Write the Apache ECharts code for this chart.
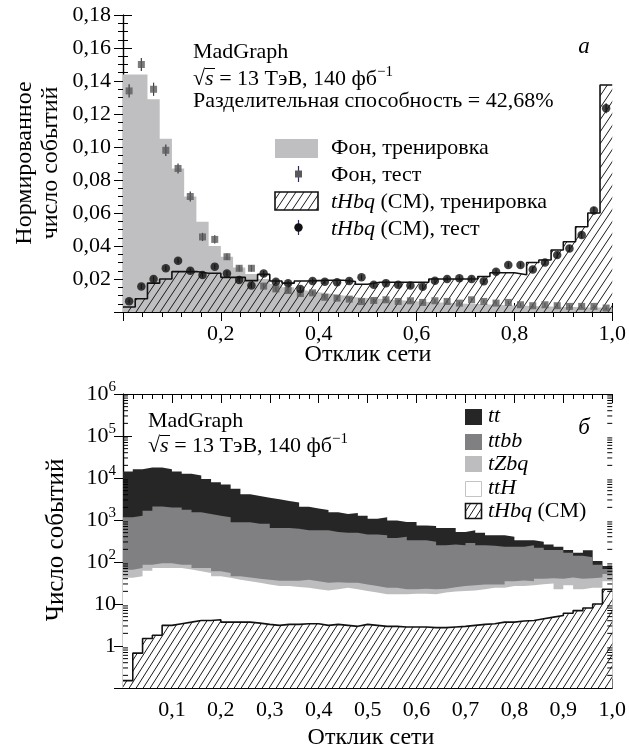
<!DOCTYPE html>
<html>
<head>
<meta charset="utf-8">
<script src="https://cdn.jsdelivr.net/npm/echarts@6/dist/echarts.min.js"></script>
<style>
  html, body { margin: 0; padding: 0; background: #fff; }
  #chart { width: 629px; height: 752px; }
</style>
</head>
<body>
<div id="chart"></div>
<script>
// верхняя панель (а): 40 бинов по 0,025
const topBinWidth = 0.025
const bkgTrain = [0.144, 0.144, 0.129, 0.105, 0.087, 0.070, 0.0547, 0.040, 0.0335, 0.027,
  0.023, 0.020, 0.017, 0.015, 0.013, 0.012, 0.011, 0.010, 0.009, 0.0085,
  0.008, 0.0075, 0.007, 0.0065, 0.006, 0.0058, 0.0055, 0.005, 0.0048, 0.0045,
  0.0043, 0.004, 0.0038, 0.0035, 0.0033, 0.003, 0.003, 0.0028, 0.0027, 0.0025]
const bkgTest = [0.134, 0.150, 0.135, 0.098, 0.087, 0.070, 0.0455, 0.044, 0.0335, 0.0265,
  0.0265, 0.0157, 0.014, 0.013, 0.0112, 0.0116, 0.0089, 0.0084, 0.0078, 0.0063,
  0.0070, 0.0074, 0.0064, 0.0068, 0.0058, 0.0068, 0.0064, 0.0054, 0.0074, 0.0064,
  0.0054, 0.0058, 0.0044, 0.0038, 0.0044, 0.0038, 0.0034, 0.0034, 0.0034, 0.0024]
const bkgTestErr = [0.004, 0.004, 0.004, 0.0035, 0.003, 0.003, 0.0025, 0.0025, 0.002, 0.002,
  0.002, 0.0015, 0.0015, 0.0015, 0.0012, 0.0012, 0.0012, 0.0012, 0.0012, 0.001,
  0.001, 0.001, 0.001, 0.001, 0.001, 0.001, 0.001, 0.001, 0.001, 0.001,
  0.001, 0.001, 0.001, 0.001, 0.001, 0.001, 0.001, 0.001, 0.001, 0.001]
const sigTrain = [0.003, 0.008, 0.0175, 0.020, 0.0245, 0.0245, 0.0235, 0.0235, 0.021, 0.021,
  0.019, 0.0228, 0.0188, 0.0175, 0.0188, 0.019, 0.0192, 0.0192, 0.0185, 0.0168,
  0.018, 0.018, 0.018, 0.018, 0.018, 0.020, 0.020, 0.020, 0.020, 0.0215,
  0.0238, 0.0238, 0.0226, 0.030, 0.0315, 0.0376, 0.0426, 0.0517, 0.060, 0.1376]
const sigTest = [0.0065, 0.0154, 0.020, 0.0265, 0.031, 0.025, 0.0224, 0.0275, 0.0234, 0.0194,
  0.016, 0.0234, 0.0184, 0.0174, 0.0139, 0.0188, 0.0184, 0.018, 0.0188, 0.021,
  0.0165, 0.0175, 0.0165, 0.016, 0.0153, 0.019, 0.020, 0.0205, 0.020, 0.0186,
  0.0244, 0.0285, 0.0285, 0.0258, 0.030, 0.0345, 0.0385, 0.0467, 0.0615, 0.1235]
const sigTestErr = [0.0012, 0.0015, 0.0015, 0.0015, 0.0015, 0.0015, 0.0015, 0.0015, 0.0015, 0.0015,
  0.0015, 0.0015, 0.0015, 0.0015, 0.0015, 0.0015, 0.0015, 0.0015, 0.0015, 0.0015,
  0.0015, 0.0015, 0.0015, 0.0015, 0.0015, 0.0015, 0.0015, 0.0015, 0.0015, 0.0015,
  0.0015, 0.0015, 0.0015, 0.0015, 0.0015, 0.0018, 0.002, 0.002, 0.0022, 0.003]

// нижняя панель (б): 50 бинов по 0,02, число событий по процессам
const botBinWidth = 0.02
const tt = [13190, 14930, 16140, 15700, 14210, 12360, 10940, 9880, 8110, 6630,
  5840, 4660, 3210, 2920, 2590, 2485, 2205, 1980, 1500, 1310,
  1160, 1005, 890, 970, 820, 615, 727, 596, 493, 560,
  410, 418, 393, 383, 263, 285, 248, 188, 201, 165,
  98, 78, 84, 69, 39, 28, 25, 60, 20, 12]
const ttbb = [1094, 1198, 1574, 2006, 1896, 1904, 1674, 1448, 1318, 1210,
  1105, 844, 847, 770, 772, 609, 609, 584, 532, 535,
  538, 482, 468, 468, 421, 423, 408, 350, 375, 308,
  307, 280, 229, 237, 225, 257, 223, 216, 203, 197,
  196, 217, 178, 152, 153, 122, 100, 89, 43, 16]
const tZbq = [23.6, 26, 24, 22, 22, 14, 20, 12, 17, 14,
  13, 8, 8, 8, 9, 9.3, 9.3, 10.7, 13.5, 12.6,
  11, 10.6, 7.5, 9.6, 8.6, 8, 7.5, 7.5, 5.4, 4.9,
  5.5, 5.4, 4.3, 5.2, 6.3, 7, 6.6, 4.5, 4.5, 8.3,
  9.3, 7, 10.5, 10, 17.6, 15, 17.6, 16.5, 18.5, 17]
const ttH = [41.8, 45.3, 60.5, 70.2, 68.9, 68.6, 62.3, 55.9, 50.9, 41.8,
  38.3, 34.3, 31.3, 28.5, 25.7, 23.6, 23.4, 22.0, 21.1, 19.0,
  17.9, 19.1, 21.4, 19.5, 17.1, 15.6, 14.1, 14.1, 14.2, 14.7,
  14.7, 14.3, 16.0, 17.0, 17.5, 17.9, 19.1, 21.1, 20.8, 23.0,
  22.8, 23.9, 25.1, 26.1, 17.1, 22.0, 15.4, 16.5, 14.5, 12.6]
const tHbq = [0.15, 0.675, 1.51, 1.81, 3.1, 3.4, 3.7, 4.06, 4.06, 4.2,
  3.7, 3.7, 3.7, 3.5, 3.27, 3.1, 3.27, 3.27, 3.4, 3.4,
  3.1, 3.27, 3.1, 2.94, 3.27, 3.1, 2.94, 2.94, 2.84, 2.84,
  2.84, 2.74, 2.74, 2.84, 2.94, 3.1, 3.27, 3.4, 3.7, 3.7,
  3.93, 4.06, 4.45, 4.87, 5.33, 6.04, 6.96, 8.0, 10, 22.4]

// подписи делений
const topXLabels = ['', '0,2', '0,4', '0,6', '0,8', '1,0']
const topYLabels = ['', '0,02', '0,04', '0,06', '0,08', '0,10', '0,12', '0,14', '0,16', '0,18']
const botXLabels = ['', '0,1', '0,2', '0,3', '0,4', '0,5', '0,6', '0,7', '0,8', '0,9', '1,0']
const botYLabels = { '-1': '', 0: '1', 1: '10', 2: '10{sup|2}', 3: '10{sup|3}', 4: '10{sup|4}', 5: '10{sup|5}', 6: '10{sup|6}' }

const FONT = '"Liberation Serif", "DejaVu Serif", serif'
const FS = 22

function stepData (vals, w) {
  const d = vals.map((v, i) => [+(i * w).toFixed(4), v])
  d.push([1, vals[vals.length - 1]])
  return d
}

function hatch (w, h) {
  const c = document.createElement('canvas')
  c.width = w
  c.height = h
  const g = c.getContext('2d')
  g.strokeStyle = '#1a1a1a'
  g.lineWidth = 1
  for (const off of [-w, 0, w]) {
    g.beginPath()
    g.moveTo(off, h)
    g.lineTo(off + w, 0)
    g.stroke()
  }
  return c
}
const hatchTop = { image: hatch(8, 12), repeat: 'repeat' }
const hatchBot = { image: hatch(7, 11), repeat: 'repeat' }

// накопленные слои нижней панели
const cum = []
let acc = tHbq.slice()
cum.push(acc.slice())
for (const arr of [ttH, tZbq, ttbb, tt]) {
  acc = acc.map((v, i) => v + arr[i])
  cum.push(acc.slice())
}

// малые деления логарифмической оси
const logMinor = []
for (let e = -1; e < 6; e++) {
  for (let m = 2; m <= 9; m++) logMinor.push([0, m * Math.pow(10, e)])
}

const tickStyle = { lineStyle: { color: '#000', width: 1 } }

function xAxis (grid, interval, labels, top) {
  return {
    type: 'value',
    gridIndex: grid,
    position: top ? 'top' : 'bottom',
    min: 0,
    max: 1,
    interval: interval,
    axisLine: { lineStyle: { color: '#000', width: 1.2 } },
    axisTick: { inside: true, length: 9, ...tickStyle },
    minorTick: { show: true, splitNumber: 5, length: 5, ...tickStyle },
    splitLine: { show: false },
    axisLabel: top
      ? { show: false }
      : {
          margin: 11,
          color: '#000',
          fontFamily: FONT,
          fontSize: FS,
          formatter: v => labels[Math.round(v / interval)] || ''
        }
  }
}

function errorBars (data, errs, w, color) {
  return {
    type: 'custom',
    xAxisIndex: 0,
    yAxisIndex: 0,
    z: 4,
    data: data.map((v, i) => [(i + 0.5) * w, v, errs[i]]),
    encode: { x: 0, y: 1 },
    renderItem: (params, api) => {
      const x = api.value(0)
      const y = api.value(1)
      const e = api.value(2)
      const p1 = api.coord([x, y - e])
      const p2 = api.coord([x, y + e])
      return {
        type: 'line',
        shape: { x1: p1[0], y1: p1[1], x2: p2[0], y2: p2[1] },
        style: { stroke: color, lineWidth: 1.2 }
      }
    }
  }
}

const myChart = echarts.init(document.getElementById('chart'), null, { renderer: 'canvas' })

const txt = (x, y, text, extra) => ({
  type: 'text',
  z: 10,
  x: x,
  y: y,
  style: {
    text: text,
    font: FS + 'px ' + FONT,
    fill: '#000',
    textVerticalAlign: 'middle',
    rich: {
      i: { fontFamily: FONT, fontSize: FS, fontStyle: 'italic' },
      n: { fontFamily: FONT, fontSize: FS },
      sup: { fontFamily: FONT, fontSize: 15, padding: [0, 0, 13, 0] }
    },
    ...extra
  }
})

const line = (x1, y1, x2, y2, stroke, w) => ({
  type: 'line', z: 10, shape: { x1, y1, x2, y2 }, style: { stroke: stroke, lineWidth: w }
})

const option = {
  animation: false,
  grid: [
    { left: 123, top: 15, width: 491, height: 297 },
    { left: 123, top: 394, width: 491, height: 294 }
  ],
  xAxis: [
    xAxis(0, 0.2, topXLabels, false),
    xAxis(0, 0.2, topXLabels, true),
    xAxis(1, 0.1, botXLabels, false),
    xAxis(1, 0.1, botXLabels, true)
  ],
  yAxis: [
    {
      type: 'value',
      gridIndex: 0,
      min: 0,
      max: 0.18,
      interval: 0.02,
      axisLine: { show: true, lineStyle: { color: '#000', width: 1.2 } },
      axisTick: { show: true, inside: true, length: 9, ...tickStyle },
      minorTick: { show: true, splitNumber: 4, length: 5, ...tickStyle },
      splitLine: { show: false },
      axisLabel: {
        margin: 12,
        color: '#000',
        fontFamily: FONT,
        fontSize: FS,
        formatter: v => topYLabels[Math.round(v / 0.02)] || ''
      }
    },
    {
      type: 'value',
      gridIndex: 0,
      position: 'right',
      min: 0,
      max: 0.18,
      interval: 0.02,
      axisLine: { show: true, lineStyle: { color: '#000', width: 1.2 } },
      axisTick: { show: true, inside: true, length: 9, ...tickStyle },
      minorTick: { show: true, splitNumber: 4, length: 5, ...tickStyle },
      splitLine: { show: false },
      axisLabel: { show: false }
    },
    {
      type: 'log',
      logBase: 10,
      gridIndex: 1,
      min: 0.1,
      max: 1e6,
      splitNumber: 8,
      axisLine: { show: true, lineStyle: { color: '#000', width: 1.2 } },
      axisTick: { show: true, inside: true, length: 9, ...tickStyle },
      splitLine: { show: false },
      axisLabel: {
        margin: 7,
        color: '#000',
        fontFamily: FONT,
        fontSize: FS,
        formatter: v => botYLabels[Math.round(Math.log10(v))] || '',
        rich: { sup: { fontFamily: FONT, fontSize: 15, padding: [0, 0, 13, 0] } }
      }
    },
    {
      type: 'log',
      logBase: 10,
      gridIndex: 1,
      position: 'right',
      min: 0.1,
      max: 1e6,
      splitNumber: 8,
      axisLine: { show: true, lineStyle: { color: '#000', width: 1.2 } },
      axisTick: { show: true, inside: true, length: 9, ...tickStyle },
      splitLine: { show: false },
      axisLabel: { show: false }
    }
  ],
  series: [
    // верхняя панель
    {
      name: 'Фон, тренировка',
      type: 'line',
      xAxisIndex: 0,
      yAxisIndex: 0,
      step: 'end',
      symbol: 'none',
      z: 1,
      data: stepData(bkgTrain, topBinWidth),
      lineStyle: { width: 0 },
      areaStyle: { color: '#bfbfc1', opacity: 1 }
    },
    {
      name: 'tHbq (СМ), тренировка',
      type: 'line',
      xAxisIndex: 0,
      yAxisIndex: 0,
      step: 'end',
      symbol: 'none',
      z: 2,
      data: stepData(sigTrain, topBinWidth),
      lineStyle: { color: '#111', width: 1.6 },
      areaStyle: { color: hatchTop, opacity: 1 }
    },
    errorBars(bkgTest, bkgTestErr, topBinWidth, '#3a3a4a'),
    {
      name: 'Фон, тест',
      type: 'scatter',
      xAxisIndex: 0,
      yAxisIndex: 0,
      z: 5,
      symbol: 'rect',
      symbolSize: 7,
      itemStyle: { color: '#5a5a5a' },
      data: bkgTest.map((v, i) => [(i + 0.5) * topBinWidth, v])
    },
    errorBars(sigTest, sigTestErr, topBinWidth, '#222'),
    {
      name: 'tHbq (СМ), тест',
      type: 'scatter',
      xAxisIndex: 0,
      yAxisIndex: 0,
      z: 6,
      symbol: 'circle',
      symbolSize: 8.5,
      itemStyle: { color: '#111' },
      data: sigTest.map((v, i) => [(i + 0.5) * topBinWidth, v])
    },
    // нижняя панель: слои от суммы вниз
    ...[
      { name: 'tt', vals: cum[4], color: '#262626' },
      { name: 'ttbb', vals: cum[3], color: '#808082' },
      { name: 'tZbq', vals: cum[2], color: '#bdbdbf' },
      { name: 'ttH', vals: cum[1], color: '#ffffff' }
    ].map((s, k) => ({
      name: s.name,
      type: 'line',
      xAxisIndex: 2,
      yAxisIndex: 2,
      step: 'end',
      symbol: 'none',
      z: 1 + k * 0.1,
      data: stepData(s.vals, botBinWidth),
      lineStyle: { width: 0 },
      areaStyle: { color: s.color, opacity: 1, origin: 'start' }
    })),
    {
      name: 'tHbq (СМ)',
      type: 'line',
      xAxisIndex: 2,
      yAxisIndex: 2,
      step: 'end',
      symbol: 'none',
      z: 2,
      data: stepData(cum[0], botBinWidth),
      lineStyle: { color: '#111', width: 1.6 },
      areaStyle: { color: hatchBot, opacity: 1, origin: 'start' }
    },
    {
      type: 'custom',
      xAxisIndex: 2,
      yAxisIndex: 2,
      z: 8,
      silent: true,
      data: logMinor,
      encode: { x: 0, y: 1 },
      renderItem: (params, api) => {
        const v = api.value(1)
        const l = api.coord([0, v])
        const r = api.coord([1, v])
        return {
          type: 'group',
          children: [
            { type: 'line', shape: { x1: l[0], y1: l[1], x2: l[0] + 5, y2: l[1] }, style: { stroke: '#000', lineWidth: 1 } },
            { type: 'line', shape: { x1: r[0] - 5, y1: r[1], x2: r[0], y2: r[1] }, style: { stroke: '#000', lineWidth: 1 } }
          ]
        }
      }
    }
  ],
  graphic: [
    // подписи осей
    txt(25, 163, 'Нормированное', { textAlign: 'center', font: '24px ' + FONT }),
    txt(51, 163, 'число событий', { textAlign: 'center', font: '24px ' + FONT }),
    txt(56, 540, 'Число событий', { textAlign: 'center', font: '25px ' + FONT }),
    txt(368, 355, 'Отклик сети', { textAlign: 'center', font: '24px ' + FONT }),
    txt(371, 738, 'Отклик сети', { textAlign: 'center', font: '24px ' + FONT }),
    // панель а
    txt(193, 52, 'MadGraph'),
    txt(193, 79, '{n|√}{i|s}{n| = 13 ТэВ, 140 фб}{sup|−1}'),
    line(205, 68.5, 215, 68.5, '#000', 1),
    txt(193, 101, 'Разделительная способность = 42,68%'),
    txt(584, 47, 'а', { textAlign: 'center', font: 'italic 23px ' + FONT }),
    { type: 'rect', z: 10, shape: { x: 275, y: 139, width: 43, height: 19 }, style: { fill: '#bfbfc1' } },
    txt(331, 148, 'Фон, тренировка'),
    line(298.5, 166, 298.5, 182, '#2a2a6a', 1.2),
    { type: 'rect', z: 11, shape: { x: 295, y: 170.5, width: 7, height: 7 }, style: { fill: '#5a5a5a' } },
    txt(331, 175, 'Фон, тест'),
    { type: 'rect', z: 10, shape: { x: 275, y: 192, width: 43, height: 18 }, style: { fill: hatchTop, stroke: '#111', lineWidth: 1.6 } },
    txt(331, 202, '{i|tHbq}{n| (СМ), тренировка}'),
    line(298.5, 220, 298.5, 235, '#2a2a6a', 1.2),
    { type: 'circle', z: 11, shape: { cx: 298.5, cy: 227.5, r: 4.2 }, style: { fill: '#111' } },
    txt(331, 229, '{i|tHbq}{n| (СМ), тест}'),
    // панель б
    txt(148, 421, 'MadGraph'),
    txt(148, 446, '{n|√}{i|s}{n| = 13 ТэВ, 140 фб}{sup|−1}'),
    line(160, 435.5, 170, 435.5, '#000', 1),
    txt(584, 428, 'б', { textAlign: 'center', font: 'italic 23px ' + FONT }),
    { type: 'rect', z: 10, shape: { x: 465, y: 409, width: 17, height: 16 }, style: { fill: '#262626' } },
    { type: 'rect', z: 10, shape: { x: 465, y: 434, width: 17, height: 16 }, style: { fill: '#808082' } },
    { type: 'rect', z: 10, shape: { x: 465, y: 456, width: 17, height: 16 }, style: { fill: '#bdbdbf' } },
    { type: 'rect', z: 10, shape: { x: 465.5, y: 481.5, width: 16, height: 15 }, style: { fill: '#fff', stroke: '#c4c4c4', lineWidth: 1 } },
    { type: 'rect', z: 10, shape: { x: 465.5, y: 503.5, width: 16, height: 15 }, style: { fill: hatchBot, stroke: '#111', lineWidth: 1.6 } },
    txt(488, 416, '{i|tt}'),
    txt(488, 441, '{i|ttbb}'),
    txt(488, 464, '{i|tZbq}'),
    txt(488, 488, '{i|ttH}'),
    txt(488, 511, '{i|tHbq}{n| (СМ)}')
  ]
}

// повёрнутые подписи оси Y
option.graphic.slice(0, 3).forEach(g => { g.rotation = Math.PI / 2 })

myChart.setOption(option)

window.addEventListener('resize', () => {
  myChart.resize()
})
</script>
</body>
</html>
